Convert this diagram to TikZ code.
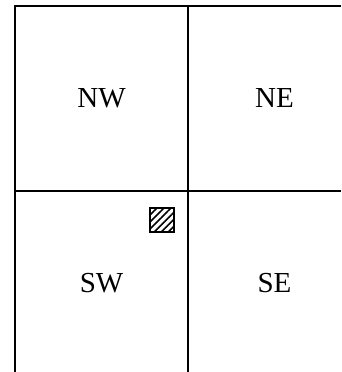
\documentclass[tikz,border=0pt]{standalone}
\usepackage{fontspec}
\setmainfont{Liberation Serif}
\usetikzlibrary{positioning,patterns.meta}
\tikzset{cell/.style={font=\fontsize{29}{34}\selectfont},
	gridline/.style={line width=2.6pt},
	hatchbox/.style={draw,line width=1.2pt,minimum size=24pt,inner sep=0pt,
		pattern={Lines[angle=45,distance=5pt,line width=1.6pt]}}}

\begin{document}
\begin{tikzpicture}[x=1pt,y=-1pt]
	\useasboundingbox (0,0) rectangle (341,372);
	\clip (0,0) rectangle (341,372);
	\coordinate (tl) at (15,6);
	\coordinate (tr) at (341,6);
	\coordinate (tm) at (188,6);
	\coordinate (bl) at (15,372);
	\coordinate (bm) at (188,372);
	\coordinate (ml) at (15,191);
	\coordinate (mr) at (341,191);
	\draw[gridline] (bl) -- (tl) -- (tr);
	\draw[gridline] (tm) -- (bm);
	\draw[gridline] (ml) -- (mr);
	\node[cell] (nw) at (101.5,98.5) {NW};
	\node[cell] (ne) at (274.5,98.5) {NE};
	\node[cell] (sw) at (101.5,283.5) {SW};
	\node[cell] (se) at (274.5,283.5) {SE};
	\node[hatchbox] (obj) at (162,220) {};
\end{tikzpicture}
\end{document}
